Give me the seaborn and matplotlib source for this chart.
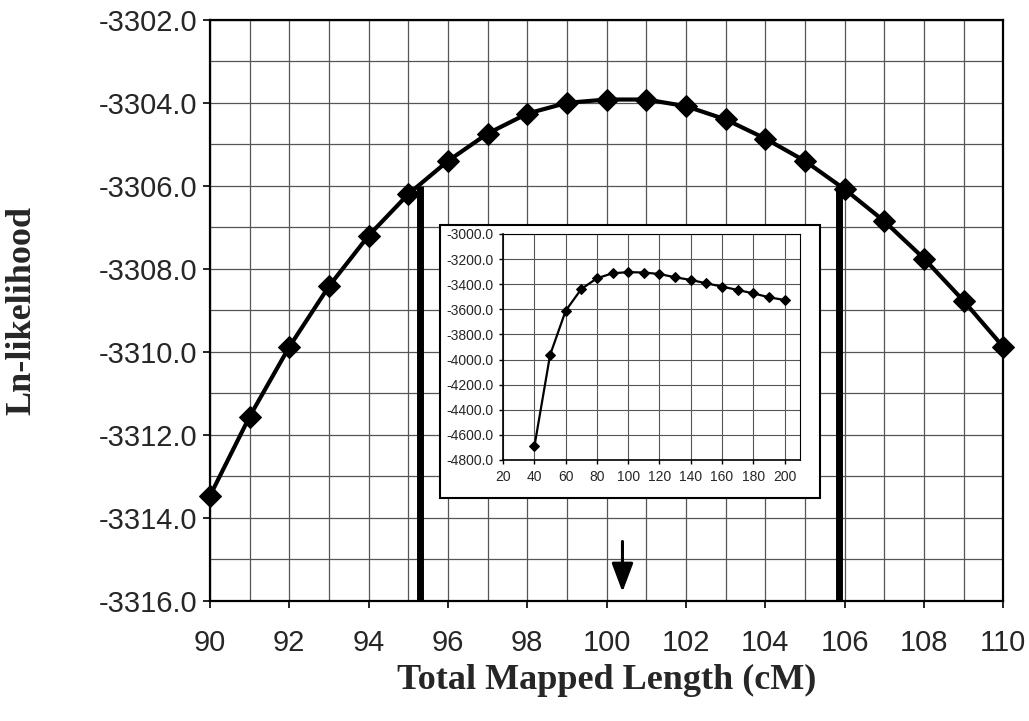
import matplotlib
matplotlib.use("Agg")
import matplotlib.pyplot as plt
from matplotlib.patches import Rectangle
import seaborn as sns
import pandas as pd
import numpy as np

# ---- data ----
main_length = [90, 91, 92, 93, 94, 95, 96, 97, 98, 99, 100,
               101, 102, 103, 104, 105, 106, 107, 108, 109, 110]
main_lnl = [-3313.47, -3311.56, -3309.88, -3308.42, -3307.2, -3306.2, -3305.4,
            -3304.74, -3304.26, -3304.0, -3303.92, -3303.92, -3304.08, -3304.4,
            -3304.86, -3305.4, -3306.08, -3306.85, -3307.75, -3308.77, -3309.88]

inset_length = [40, 50, 60, 70, 80, 90, 100, 110, 120, 130, 140, 150,
                160, 170, 180, 190, 200]
inset_lnl = [-4690, -3964, -3611, -3438, -3353, -3313, -3304, -3307, -3319,
             -3345, -3366, -3393, -3419, -3446, -3473, -3504, -3526]

ci_bounds = [95.3, 105.85]
ci_level = -3306.0
arrow_x = 100.4
arrow_y = [-3314.5, -3315.85]

main_xticks = list(range(90, 111, 2))
main_yticks = [-3316, -3314, -3312, -3310, -3308, -3306, -3304, -3302]
inset_xticks = list(range(20, 201, 20))
inset_yticks = list(range(-4800, -2999, 200))

# ---- style ----
sns.set_style("white")
plt.rcParams['font.family'] = ['Liberation Sans', 'DejaVu Sans']

fig = plt.figure(figsize=(10.29, 7.21), dpi=100)
ax = fig.add_axes([0.204, 0.1665, 0.771, 0.806])

df_main = pd.DataFrame({"len": main_length, "lnl": main_lnl})
sns.lineplot(data=df_main, x="len", y="lnl", ax=ax, color="black", lw=3,
             marker="D", markersize=11, markeredgecolor="black", zorder=5,
             clip_on=False)

ax.set_xlim(90, 110)
ax.set_ylim(-3316, -3302)
ax.set_xticks(main_xticks)
ax.set_xticks(np.arange(90, 111, 1), minor=True)
ax.set_yticks(main_yticks)
ax.set_yticks(np.arange(-3316, -3301, 1), minor=True)
ax.set_xticklabels([str(v) for v in main_xticks], fontsize=21)
ax.set_yticklabels([f"{v:.1f}" for v in main_yticks], fontsize=21)
ax.grid(True, which="both", color="#555555", lw=0.9)
ax.tick_params(axis="both", which="major", direction="out", length=5,
               width=1.2, color="black", bottom=True, left=True)
ax.tick_params(axis="x", which="major", pad=15)
ax.tick_params(axis="y", which="major", pad=4)
ax.tick_params(axis="both", which="minor", length=0)
for s in ax.spines.values():
    s.set_color("black")
    s.set_linewidth(1.6)

ax.vlines(ci_bounds, -3316, ci_level, color="black", lw=5, zorder=6)
ax.annotate("", xy=(arrow_x, arrow_y[1]), xytext=(arrow_x, arrow_y[0]),
            arrowprops=dict(arrowstyle="-|>,head_length=0.8,head_width=0.3",
                            color="black", lw=2.2, mutation_scale=22), zorder=7)

ax.set_xlabel("Total Mapped Length (cM)", family="Liberation Serif",
              fontweight="bold", fontsize=26)
ax.set_ylabel("Ln-likelihood", family="Liberation Serif",
              fontweight="bold", fontsize=26)
ax.xaxis.set_label_coords(0.5, -0.136)
ax.yaxis.set_label_coords(-0.237, 0.5)
ax.xaxis.label.set_va("center")
ax.yaxis.label.set_va("center")

# inset frame
frame = Rectangle((0.4276, 0.309), 0.3694, 0.379, transform=fig.transFigure,
                  facecolor="white", edgecolor="black", lw=1.5, zorder=1)
fig.patches.append(frame)

axi = fig.add_axes([0.489, 0.362, 0.2886, 0.3135], zorder=2)
df_in = pd.DataFrame({"len": inset_length, "lnl": inset_lnl})
sns.lineplot(data=df_in, x="len", y="lnl", ax=axi, color="black", lw=1.6,
             marker="D", markersize=5.5, markeredgecolor="black", zorder=5)
axi.set_xlim(20, 210)
axi.set_ylim(-4800, -3000)
axi.set_xticks(inset_xticks)
axi.set_yticks(inset_yticks)
axi.set_xticklabels([str(v) for v in inset_xticks], fontsize=10)
axi.set_yticklabels([f"{v:.1f}" for v in inset_yticks], fontsize=10)
axi.grid(True, color="#555555", lw=0.8)
axi.set_xlabel("")
axi.set_ylabel("")
axi.tick_params(axis="both", direction="out", length=3, width=1,
                color="black", pad=4, bottom=True, left=True)
for name, s in axi.spines.items():
    s.set_color("black")
    s.set_linewidth(0.8)
axi.spines["left"].set_linewidth(1.2)
axi.spines["bottom"].set_linewidth(1.2)

fig.savefig("out.png", dpi=100)
